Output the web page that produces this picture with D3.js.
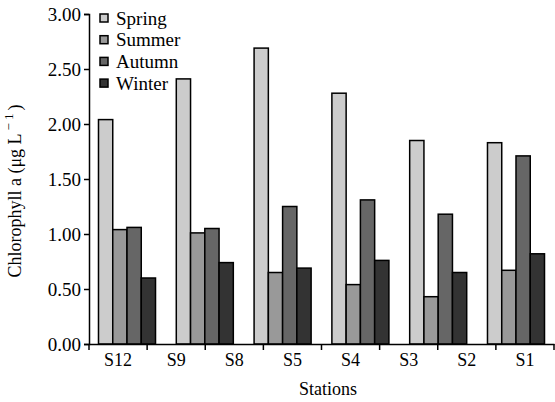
<!DOCTYPE html>
<html>
<head>
<meta charset="utf-8">
<script src="https://cdn.jsdelivr.net/npm/d3@7"></script>
<style>
  body { margin: 0; background: #fff; }
  svg text { font-family: "Liberation Serif", "Times New Roman", serif; fill: #000; }
</style>
</head>
<body>
<svg id="chart" width="555" height="402"></svg>
<script>
// Data
const groups   = ["S12", "S9-S8", "S5", "S4", "S3-S2", "S1"];
const stations = ["S12", "S9", "S8", "S5", "S4", "S3", "S2", "S1"];
const seasons  = ["Spring", "Summer", "Autumn", "Winter"];
const spring = [2.04, 2.41, 2.69, 2.28, 1.85, 1.83];
const summer = [1.04, 1.01, 0.65, 0.54, 0.43, 0.67];
const autumn = [1.06, 1.05, 1.25, 1.31, 1.18, 1.71];
const winter = [0.60, 0.74, 0.69, 0.76, 0.65, 0.82];
const yTicks = [0, 0.5, 1.0, 1.5, 2.0, 2.5, 3.0];
const colors = ["#cccccc", "#999999", "#666666", "#333333"];

const series = [spring, summer, autumn, winter];

const svg = d3.select("#chart");
const mLeft = 89, mRight = 554, mTop = 14, mBottom = 344;

const y = d3.scaleLinear().domain([0, 3]).range([mBottom, mTop]);
const xGroup = d3.scaleBand().domain(groups).range([mLeft, mRight])
  .paddingInner(0.267).paddingOuter(0.122);
const xSeason = d3.scaleBand().domain(seasons).range([0, xGroup.bandwidth()]);
const xStation = d3.scaleBand().domain(stations).range([mLeft, mRight]);
const color = d3.scaleOrdinal().domain(seasons).range(colors);

// Bars
const g = svg.append("g");
groups.forEach((grp, gi) => {
  seasons.forEach((s, si) => {
    g.append("rect")
      .attr("x", xGroup(grp) + xSeason(s))
      .attr("y", y(series[si][gi]))
      .attr("width", xSeason.bandwidth())
      .attr("height", y(0) - y(series[si][gi]))
      .attr("fill", color(s))
      .attr("stroke", "#000")
      .attr("stroke-width", 1.5);
  });
});

// Y axis
const yAxis = svg.append("g")
  .attr("transform", `translate(${mLeft},0)`)
  .attr("font-family", "Liberation Serif")
  .call(d3.axisLeft(y).tickValues(yTicks).tickFormat(d3.format(".2f"))
        .tickSize(5).tickSizeOuter(5).tickPadding(3));
yAxis.attr("font-family", "Liberation Serif");
yAxis.selectAll("path, line").attr("stroke", "#000").attr("stroke-width", 1.5);
yAxis.selectAll("text").style("font-size", "19px").style("font-family", "Liberation Serif");

// X axis (labels at station centres, ticks at boundaries)
const xAxis = svg.append("g")
  .attr("transform", `translate(0,${mBottom})`)
  .call(d3.axisBottom(xStation).tickSize(0).tickSizeOuter(0).tickPadding(9));
xAxis.attr("font-family", "Liberation Serif");
xAxis.select("path").attr("stroke", "#000").attr("stroke-width", 1.5);
xAxis.selectAll("text").style("font-size", "18px").style("font-family", "Liberation Serif");
const bounds = stations.map(s => xStation(s)).concat([xStation.range()[1]]);
xAxis.selectAll("line.bound").data(bounds).enter().append("line")
  .attr("class", "bound")
  .attr("x1", d => d).attr("x2", d => d)
  .attr("y1", 0).attr("y2", 6)
  .attr("stroke", "#000").attr("stroke-width", 1.5);

// Axis titles
svg.append("text")
  .attr("x", 328).attr("y", 395)
  .attr("text-anchor", "middle")
  .style("font-size", "18px")
  .text("Stations");

const yt = svg.append("text")
  .attr("transform", "translate(21,191) rotate(-90)")
  .attr("text-anchor", "middle")
  .style("font-size", "18px");
yt.append("tspan").text("Chlorophyll a (μg L");
yt.append("tspan").attr("dx", 3).attr("dy", -8).style("font-size", "13px").text("\u2212 1");
yt.append("tspan").attr("dx", 3).attr("dy", 8).text(")");

// Legend
const leg = svg.append("g");
seasons.forEach((s, i) => {
  const cy = 18 + i * 21.7;
  leg.append("rect")
    .attr("x", 100).attr("y", cy - 4)
    .attr("width", 8).attr("height", 8)
    .attr("fill", color(s)).attr("stroke", "#000").attr("stroke-width", 1.5);
  leg.append("text")
    .attr("x", 116).attr("y", cy)
    .attr("dy", "0.35em")
    .style("font-size", "19px")
    .text(s);
});
</script>
</body>
</html>
